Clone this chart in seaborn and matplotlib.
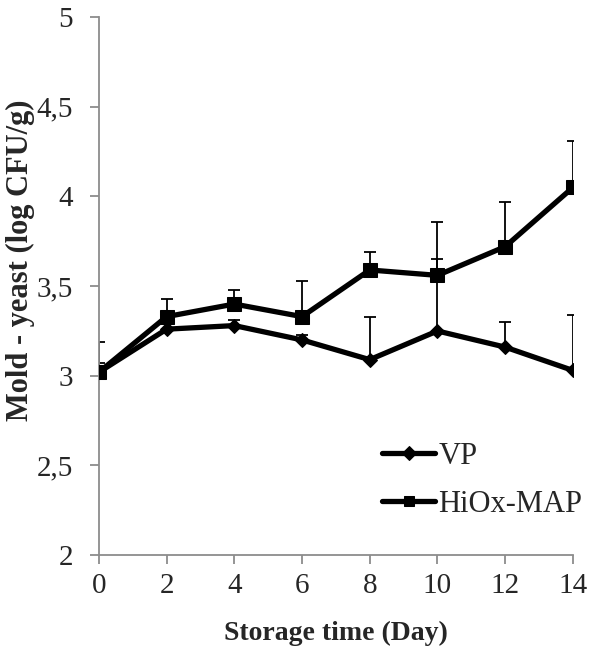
import matplotlib
matplotlib.use("Agg")
import matplotlib.pyplot as plt
import seaborn as sns
import pandas as pd
import numpy as np

days = [0, 2, 4, 6, 8, 10, 12, 14]
vp = [3.02, 3.26, 3.28, 3.20, 3.09, 3.25, 3.16, 3.03]
vp_err = [0.05, 0.03, 0.03, 0.03, 0.24, 0.40, 0.14, 0.31]
hiox = [3.02, 3.33, 3.40, 3.33, 3.59, 3.56, 3.72, 4.05]
hiox_err = [0.17, 0.10, 0.08, 0.20, 0.10, 0.30, 0.25, 0.26]
yticks = [2, 2.5, 3, 3.5, 4, 4.5, 5]
ytick_labels = ["2", "2,5", "3", "3,5", "4", "4,5", "5"]

sns.set_style("white")
plt.rcParams['font.family'] = ['Liberation Serif', 'DejaVu Serif']

df = pd.DataFrame({
    "day": days * 2,
    "value": vp + hiox,
    "series": ["VP"] * len(days) + ["HiOx-MAP"] * len(days),
})

fig = plt.figure(figsize=(6.03, 6.57), dpi=100)
ax = fig.add_axes([0.164, 0.155, 0.786, 0.819])

# error bars (upper only)
ax.errorbar(days, vp, yerr=[np.zeros(len(vp)), vp_err], fmt='none', ecolor='black',
            elinewidth=1.3, capsize=4, capthick=1.3, zorder=1)
ax.errorbar(days, hiox, yerr=[np.zeros(len(hiox)), hiox_err], fmt='none', ecolor='black',
            elinewidth=1.3, capsize=4, capthick=1.3, zorder=1)

sns.lineplot(data=df[df.series == "VP"], x="day", y="value", ax=ax, color="black",
             linewidth=3.8, marker="D", markersize=7.5, markeredgecolor="black",
             label="VP", zorder=2)
sns.lineplot(data=df[df.series == "HiOx-MAP"], x="day", y="value", ax=ax, color="black",
             linewidth=3.8, marker="s", markersize=10, markeredgecolor="black",
             label="HiOx-MAP", zorder=3)

ax.set_xlim(0, 14)
ax.set_ylim(2, 5)
ax.set_xticks(days)
ax.set_xticklabels([str(d) for d in days])
ax.set_yticks(yticks)
ax.set_yticklabels(ytick_labels)

for s in ["top", "right"]:
    ax.spines[s].set_visible(False)
for s in ["left", "bottom"]:
    ax.spines[s].set_color("#8c8c8c")
    ax.spines[s].set_linewidth(1.3)
ax.tick_params(axis="both", which="major", direction="out", length=6.5, width=1.3,
               color="#8c8c8c", labelsize=21, left=True, bottom=True)
ax.tick_params(axis="y", pad=12)
ax.tick_params(axis="x", pad=6)
ax.set_xlabel("Storage time (Day)", fontsize=20, fontweight="bold", labelpad=16)
ax.set_ylabel("Mold - yeast (log CFU/g)", fontsize=22, fontweight="bold")
ax.yaxis.set_label_coords(-0.135, 0.548)

leg = ax.legend(loc="upper left", bbox_to_anchor=(0.597, 0.21), frameon=False,
                fontsize=22, handlelength=1.75, handletextpad=0.1, labelspacing=0.6,
                borderpad=0, borderaxespad=0)
for h in leg.legend_handles:
    h.set_markersize(7)

fig.savefig("out.png", dpi=100)
